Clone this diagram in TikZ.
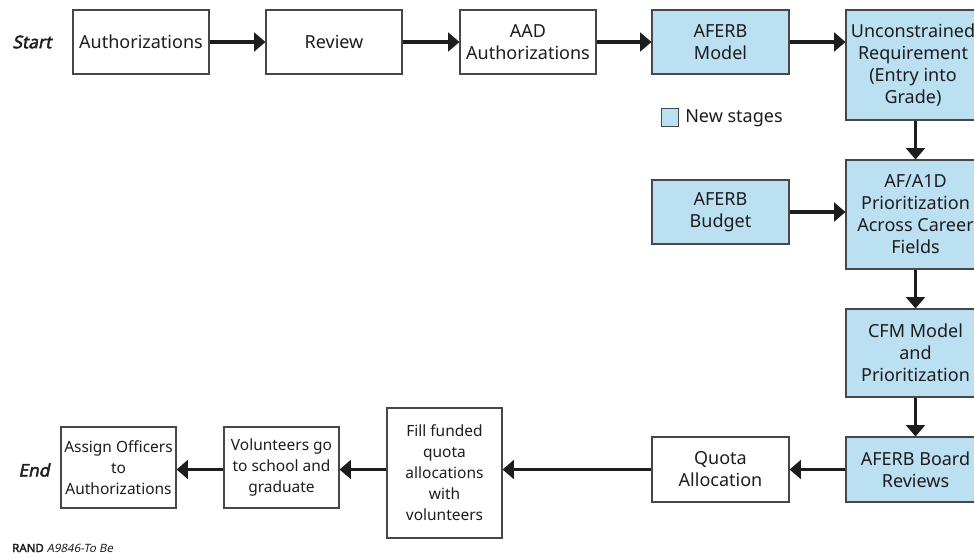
\documentclass[tikz,border=0pt]{standalone}
\usepackage{fontspec}
\setmainfont{Noto Sans}
\newfontfamily\labfont{Noto Sans}[FakeBold=2.2, FakeSlant=0.2]
\newfontfamily\boldfont{Noto Sans}[FakeBold=2.2]
\newfontfamily\slfont{Noto Sans}[FakeSlant=0.2]
\usetikzlibrary{arrows.meta}
\definecolor{newstage}{RGB}{186,224,242}
\definecolor{boxline}{RGB}{70,70,75}
\definecolor{arrowc}{RGB}{30,28,30}
\tikzset{
  stage/.style={draw=boxline, line width=0.8pt, fill=white, inner sep=0pt, align=center,
    font=\fontsize{13.5}{16.5}\selectfont, text=arrowc},
  smallstage/.style={stage, font=\fontsize{11.6}{15.75}\selectfont},
  newst/.style={stage, fill=newstage},
  flow/.style={draw=arrowc, line width=2.3pt, -{Triangle[length=8.5pt,width=14pt]}},
  endlabel/.style={font=\fontsize{13}{16}\labfont, text=arrowc},
}
\begin{document}
\begin{tikzpicture}[x=0.75pt,y=-0.75pt]
\useasboundingbox (0,0) rectangle (974,558);
\clip (0,0) rectangle (974,558);
% top row
\node[stage, minimum width=102pt, minimum height=48pt] (auth) at (141,42) {Authorizations};
\node[stage, minimum width=102pt, minimum height=48pt] (review) at (334,42) {Review};
\node[stage, minimum width=102pt, minimum height=48pt] (aad) at (528,42) {AAD\\Authorizations};
\node[newst, minimum width=102.75pt, minimum height=48pt] (model) at (720.5,42) {AFERB\\Model};
\node[newst, minimum width=104.25pt, minimum height=82.5pt] (uncon) at (915.5,65) {};
\node[stage, fill=none, draw=none] (untext) at (913,65) {Unconstrained\\Requirement\\(Entry into\\Grade)};
% middle
\node[newst, minimum width=102.75pt, minimum height=48pt] (budget) at (720.5,212) {AFERB\\Budget};
\node[newst, minimum width=104.25pt, minimum height=81.75pt] (af) at (915.5,214.5) {AF/A1D\\Prioritization\\Across Career\\Fields};
\node[newst, minimum width=104.25pt, minimum height=66pt] (cfm) at (915.5,353) {CFM Model\\and\\Prioritization};
% bottom row
\node[newst, minimum width=104.25pt, minimum height=48.75pt] (board) at (915.5,469.5) {AFERB Board\\Reviews};
\node[stage, minimum width=102.75pt, minimum height=48.75pt] (quota) at (720.5,469.5) {Quota\\Allocation};
\node[smallstage, minimum width=86.25pt, minimum height=97.5pt] (fill) at (444.5,473) {Fill funded\\quota\\allocations\\with\\volunteers};
\node[smallstage, minimum width=86.25pt, minimum height=60.75pt] (vol) at (281.5,467.5) {Volunteers go\\to school and\\graduate};
\node[smallstage, minimum width=86.25pt, minimum height=60.75pt] (assign) at (118.5,467.5) {Assign Officers\\to\\Authorizations};
% labels
\node[endlabel] (start) at (32,42) {Start};
\node[endlabel] (end) at (34,470) {End};
% legend
\node[draw=boxline, line width=0.8pt, fill=newstage, minimum size=13pt, inner sep=0pt] (legbox) at (670,117.5) {};
\node[anchor=west, font=\fontsize{13.5}{16.5}\selectfont, text=arrowc, inner sep=0pt] (legtext) at (685,118) {New stages};
% credit
\node[anchor=west, inner sep=0pt, font=\fontsize{8.6}{10}\selectfont, text=arrowc] (credit) at (12,548) {{\boldfont RAND} {\slfont A9846-To Be}};
% connectors
\draw[flow] (auth) -- (review);
\draw[flow] (review) -- (aad);
\draw[flow] (aad) -- (model);
\draw[flow] (model) -- (model -| uncon.west);
\draw[flow] (uncon) -- (af);
\draw[flow] (budget) -- (budget -| af.west);
\draw[flow] (af) -- (cfm);
\draw[flow] (cfm) -- (board);
\draw[flow] (board) -- (quota);
\draw[flow] (quota.west) -- (quota.west -| fill.east);
\draw[flow] (fill.west |- quota.west) -- (quota.west -| vol.east);
\draw[flow] (vol.west |- quota.west) -- (quota.west -| assign.east);
\end{tikzpicture}
\end{document}
